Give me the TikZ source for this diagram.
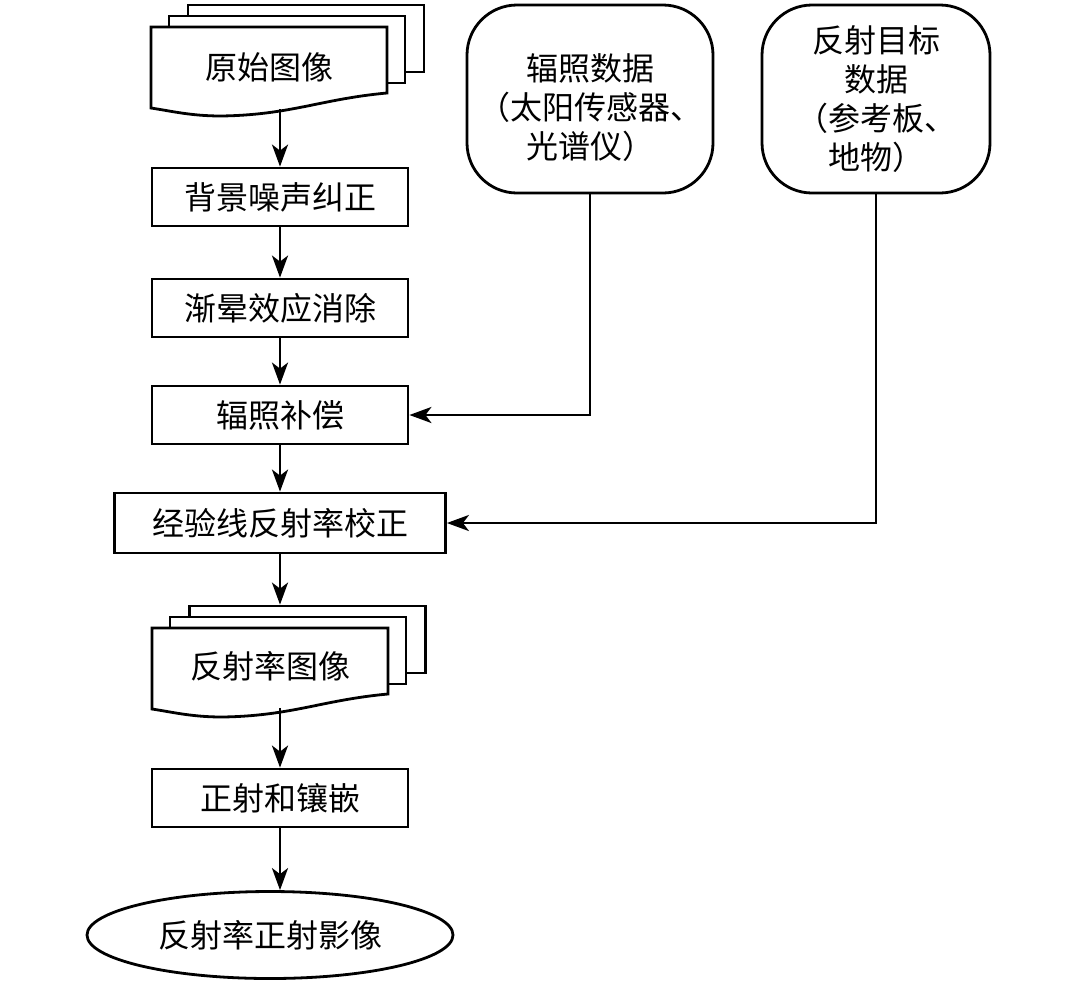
\documentclass[tikz,border=0pt]{standalone}
\usepackage{fontspec}
\setmainfont{Noto Sans CJK SC}
\usetikzlibrary{arrows.meta, shapes.geometric, positioning}

\tikzset{
  procbox/.style={draw, minimum width=128pt, minimum height=29pt},
  page/.style={draw, fill=white, minimum width=118pt, minimum height=33.5pt},
  pagefront/.style={minimum width=118pt, minimum height=40.5pt},
  databox/.style={draw, rounded corners=25pt, align=center, minimum height=94pt},
  flow/.style={-{Stealth[length=11pt, width=8pt, inset=3pt]}}
}

\begin{document}
\begin{tikzpicture}[x=0.5pt, y=-0.5pt, line width=1.4pt,
  every node/.append style={font=\fontsize{16}{19.5}\selectfont}]
  \useasboundingbox (0,0) rectangle (1080,986);

  % Images
  \node[page] (raw3) at (306,38.5) {};
  \node[page] (raw2) at (287,49.5) {};
  \draw[fill=white] (151,27) -- (387,27) -- (387,93)
    .. controls (321,99) and (291,115) .. (221,116)
    .. controls (191,116) and (171,111) .. (151,108) -- cycle;
  \node[pagefront] (raw) at (269,67.5) {原始图像};

  \node[page] (refl3) at (307.5,639.5) {};
  \node[page] (refl2) at (288,650.5) {};
  \draw[fill=white] (152,628) -- (388,628) -- (388,694)
    .. controls (322,700) and (292,716) .. (222,717)
    .. controls (192,717) and (172,712) .. (152,709) -- cycle;
  \node[pagefront] (refl) at (270,666) {反射率图像};

  % Steps
  \node[procbox] (b1) at (280,197) {背景噪声纠正};
  \node[procbox] (b2) at (280,308) {渐晕效应消除};
  \node[procbox] (b3) at (280,415) {辐照补偿};
  \node[procbox, minimum width=165.5pt, minimum height=30pt] (b4) at (280,523) {经验线反射率校正};
  \node[procbox] (b5) at (280,798) {正射和镶嵌};
  \node[draw, ellipse, inner sep=0pt, minimum width=183pt, minimum height=43.5pt] (out) at (270,935) {反射率正射影像};

  % Data
  \node[databox, minimum width=123pt] (irr) at (590,99) {\rule{0pt}{22pt}辐照数据\\（太阳传感器、\\光谱仪）};
  \node[databox, minimum width=114pt] (tgt) at (876,99) {反射目标\\数据\\（参考板、\\地物）};

  % Arrows
  \draw[flow] (raw.south -| b1.north) -- (b1.north);
  \draw[flow] (b1) -- (b2);
  \draw[flow] (b2) -- (b3);
  \draw[flow] (b3) -- (b4);
  \draw[flow] (b4.south) -- (b4.south |- refl3.north);
  \draw[flow] (refl.south -| b5.north) -- (b5.north);
  \draw[flow] (b5.south) -- (b5.south |- out.north);
  \draw[flow] (irr.south) |- (b3.east);
  \draw[flow] (tgt.south) |- (b4.east);
\end{tikzpicture}
\end{document}
